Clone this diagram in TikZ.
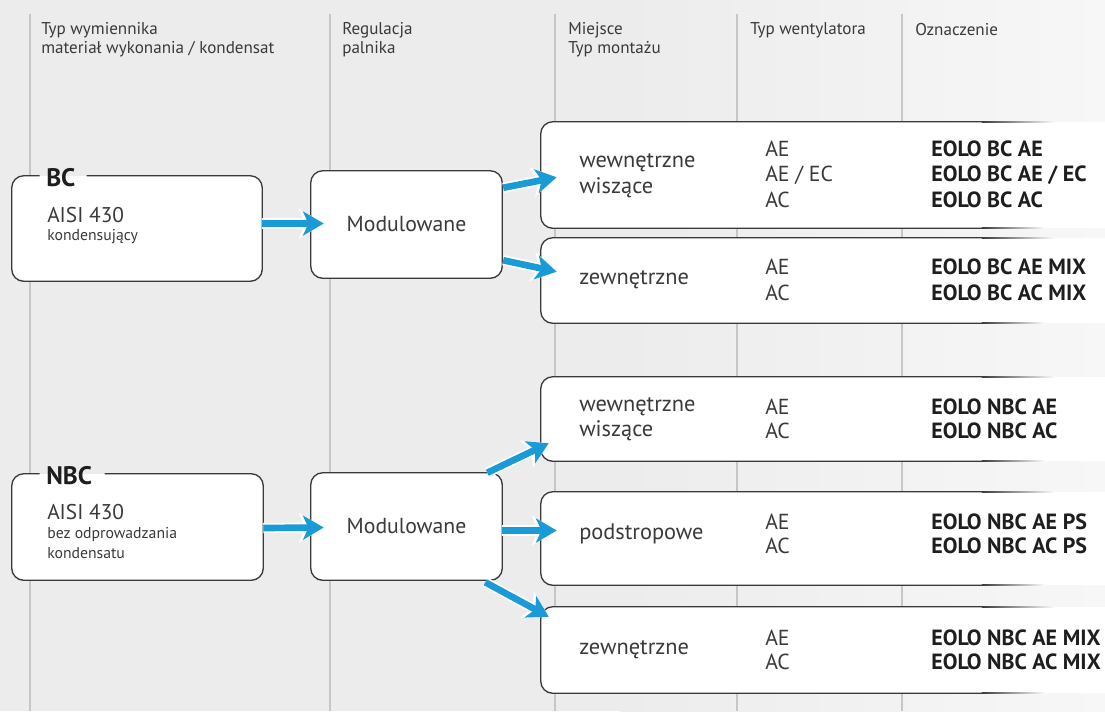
\documentclass[tikz,border=0pt]{standalone}
\usepackage{fontspec}
\setmainfont{PT Sans}
\usetikzlibrary{arrows.meta,calc,fit}
\definecolor{bgc}{HTML}{ECECEC}
\definecolor{bgr}{HTML}{F7F7F7}
\definecolor{vline}{HTML}{C6C6C6}
\definecolor{bordc}{HTML}{3A3A3A}
\definecolor{txtc}{HTML}{3A3A3A}
\definecolor{boldc}{HTML}{1E1E1E}
\definecolor{flowblue}{HTML}{1B9AD8}
\tikzset{
  hdr/.style={anchor=west, inner sep=0, text=txtc, font=\fontsize{12.8}{14}\selectfont},
  boxfill/.style={fill=white, rounded corners=9pt, inner sep=0},
  bordln/.style={draw=bordc, line width=1pt, rounded corners=9pt},
  tag/.style={anchor=west, inner sep=0, text=boldc, font=\bfseries\fontsize{19}{20}\selectfont},
  big/.style={anchor=west, inner sep=0, text=txtc, font=\fontsize{16}{18}\selectfont},
  small/.style={anchor=west, inner sep=0, text=txtc, font=\fontsize{11.8}{13}\selectfont},
  modt/.style={inner sep=0, text=txtc, font=\fontsize{16.3}{18}\selectfont},
  place/.style={anchor=west, inner sep=0, text=txtc, font=\fontsize{16.8}{18}\selectfont},
  fan/.style={anchor=west, inner sep=0, text=txtc, font=\fontsize{16.3}{18}\selectfont},
  code/.style={anchor=west, inner sep=0, text=boldc, font=\bfseries\fontsize{16.5}{18}\selectfont},
  arrw/.style={draw=white, line width=7.6pt, -{Stealth[length=18.5pt,width=22pt,inset=4.5pt]}},
  arrb/.style={draw=flowblue, line width=5pt, -{Stealth[length=15.5pt,width=18pt,inset=4pt,fill=flowblue]}},
}
\newcommand\flowarrow[2]{%
  \draw[arrw] #1 -- #2;
  \draw[arrb] #1 -- #2;}
\newcommand\rightbox[3]{% name, top, bottom
  \node[boxfill, fit={(541,#2)(1140,#3)}] (#1) {};
  \draw[bordln] ($(#1.north west)+(442,0)$) -- (#1.north west) -- (#1.south west) -- ($(#1.south west)+(442,0)$);
  \shade[left color=bordc, right color=white] ($(#1.north west)+(441,-0.67)$) rectangle ($(#1.north west)+(515,0.67)$);
  \shade[left color=bordc, right color=white] ($(#1.south west)+(441,-0.67)$) rectangle ($(#1.south west)+(505,0.67)$);}
\begin{document}
\begin{tikzpicture}[x=0.75pt,y=-0.75pt]
\useasboundingbox (0,0) rectangle (1105,711);
\clip (0,0) rectangle (1105,711);
\fill[bgc] (0,0) rectangle (1105,711);
\shade[left color=bgc, right color=bgr] (620,0) rectangle (1105,711);
% column lines
\foreach \x in {30,330,555,737,902} \draw[vline, line width=0.8pt] (\x,14) -- (\x,711);
% headers
\node[hdr] (h1a) at (41,30) {Typ wymiennika};
\node[hdr] (h1b) at (41,49) {materiał wykonania / kondensat};
\node[hdr] (h2a) at (342,30) {Regulacja};
\node[hdr] (h2b) at (342,49) {palnika};
\node[hdr] (h3a) at (568,30) {Miejsce};
\node[hdr] (h3b) at (568,49) {Typ montażu};
\node[hdr] (h4a) at (750,30) {Typ wentylatora};
\node[hdr] (h5a) at (915,30) {Oznaczenie};

% ---------- BC ----------
\node[boxfill, fit={(12,176)(262,281)}] (bc) {};
\draw[bordln] ($(bc.north west)+(28,0)$) -- (bc.north west) -- (bc.south west) -- (bc.south east) -- (bc.north east) -- ($(bc.north west)+(75,0)$);
\node[tag] (bct) at (46,178) {BC};
\node[big] (bca) at (47,215) {AISI 430};
\node[small] (bcb) at (47,237) {kondensujący};

\node[boxfill, fit={(311,171)(502,278)}] (bcm) {};
\draw[bordln] (bcm.north west) rectangle (bcm.south east);
\node[modt] (bcmt) at (bcm.center) {Modulowane};

\rightbox{bcr1}{122}{228}
\node[place] at (579,163) {wewnętrzne};
\node[place] at (579,188) {wiszące};
\node[fan] at (765,149) {AE};
\node[fan] at (765,175) {AE / EC};
\node[fan] at (765,200) {AC};
\node[code] at (931,149) {EOLO BC AE};
\node[code] at (931,175) {EOLO BC AE / EC};
\node[code] at (931,200) {EOLO BC AC};

\rightbox{bcr2}{238}{323}
\node[place] at (579,280) {zewnętrzne};
\node[fan] at (765,267) {AE};
\node[fan] at (765,293) {AC};
\node[code] at (931,267) {EOLO BC AE MIX};
\node[code] at (931,293) {EOLO BC AC MIX};

\flowarrow{($(bc.east)+(0,-5)$)}{($(bcm.west)+(13,-1)$)}
\flowarrow{($(bcm.north east)+(1,17)$)}{($(bcr1.south west)+(16,-51)$)}
\flowarrow{($(bcm.south east)+(1,-18)$)}{($(bcr2.north west)+(16,34)$)}

% ---------- NBC ----------
\node[boxfill, fit={(12,474)(263,580)}] (nbc) {};
\draw[bordln] ($(nbc.north west)+(28,0)$) -- (nbc.north west) -- (nbc.south west) -- (nbc.south east) -- (nbc.north east) -- ($(nbc.north west)+(93,0)$);
\node[tag] (nbct) at (46,476) {NBC};
\node[big] (nbca) at (47,512) {AISI 430};
\node[small] (nbcb) at (47,534) {bez odprowadzania};
\node[small] (nbcc) at (47,553) {kondensatu};

\node[boxfill, fit={(311,473)(502,580)}] (nbcm) {};
\draw[bordln] (nbcm.north west) rectangle (nbcm.south east);
\node[modt] (nbcmt) at (nbcm.center) {Modulowane};

\rightbox{nbr1}{377}{461}
\node[place] at (579,407) {wewnętrzne};
\node[place] at (579,431) {wiszące};
\node[fan] at (765,407) {AE};
\node[fan] at (765,431) {AC};
\node[code] at (931,407) {EOLO NBC AE};
\node[code] at (931,431) {EOLO NBC AC};

\rightbox{nbr2}{492}{585}
\node[place] at (579,534) {podstropowe};
\node[fan] at (765,522) {AE};
\node[fan] at (765,546) {AC};
\node[code] at (931,522) {EOLO NBC AE PS};
\node[code] at (931,546) {EOLO NBC AC PS};

\rightbox{nbr3}{607}{693}
\node[place] at (579,650) {zewnętrzne};
\node[fan] at (765,638) {AE};
\node[fan] at (765,662) {AC};
\node[code] at (931,638) {EOLO NBC AE MIX};
\node[code] at (931,662) {EOLO NBC AC MIX};

\flowarrow{($(nbc.east)+(0,1)$)}{($(nbcm.west)+(13,1)$)}
\flowarrow{($(nbcm.north east)+(-15,0)$)}{($(nbr1.south west)+(8,-18)$)}
\flowarrow{($(nbcm.east)+(0,4)$)}{($(nbr2.west)+(16,-8)$)}
\flowarrow{($(nbcm.south east)+(-17,2)$)}{($(nbr3.north west)+(8,10)$)}
\end{tikzpicture}
\end{document}
